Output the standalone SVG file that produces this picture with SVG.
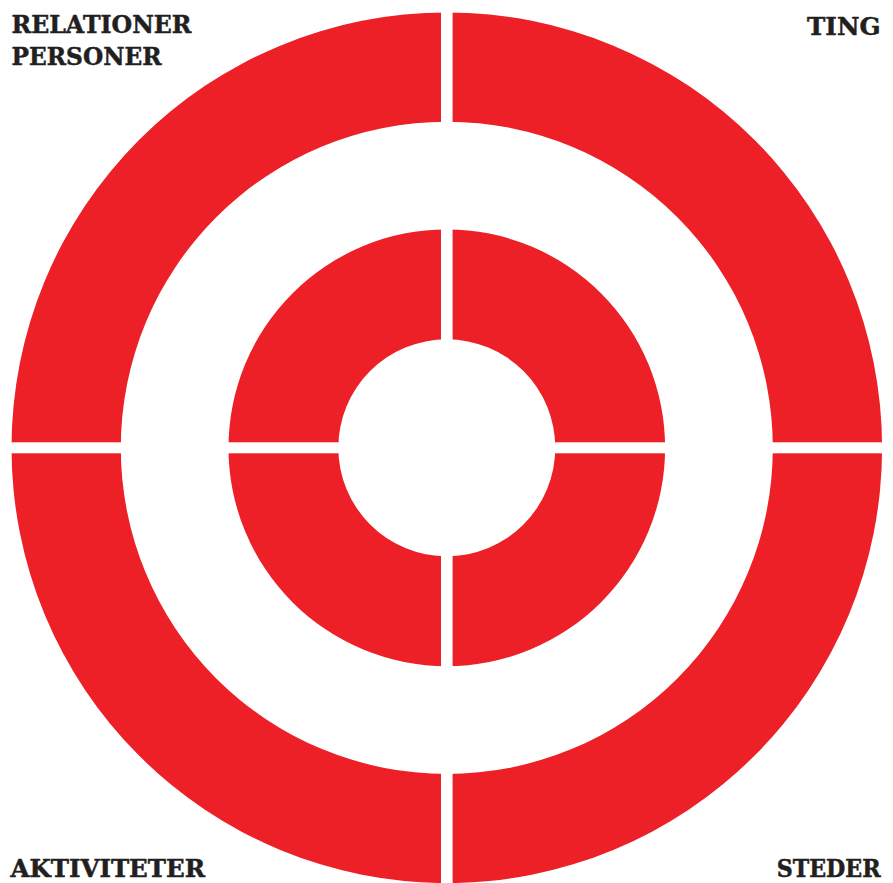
<svg xmlns="http://www.w3.org/2000/svg" width="893" height="883" viewBox="0 0 893 883">
<style>
.ring{fill:#ED1F27;fill-rule:evenodd}
.gap{fill:#FFFFFF}
.lbl{font-family:"DejaVu Serif","Liberation Serif",serif;font-weight:bold;font-size:25px;fill:#231F20;stroke:#231F20;stroke-width:0.5}
.low{font-size:24px}
</style>
<rect width="893" height="883" fill="#FFFFFF"/>
<g id="outer-ring">
<path class="ring" d="M11.5,447.8 A435.3,435.3 0 1,0 882.1,447.8 A435.3,435.3 0 1,0 11.5,447.8 Z M120.8,447.8 A326,326 0 1,0 772.8,447.8 A326,326 0 1,0 120.8,447.8 Z"/>
</g>
<g id="inner-ring">
<path class="ring" d="M228.5,447.8 A218.3,218.3 0 1,0 665.1,447.8 A218.3,218.3 0 1,0 228.5,447.8 Z M338.3,447.8 A108.5,108.5 0 1,0 555.3,447.8 A108.5,108.5 0 1,0 338.3,447.8 Z"/>
</g>
<g id="dividers">
<rect class="gap" x="441" y="0" width="11.6" height="883"/>
<rect class="gap" x="0" y="442.3" width="893" height="11"/>
</g>
<g id="label-relationer-personer">
<text class="lbl" x="11.5" y="33.3" textLength="180" lengthAdjust="spacingAndGlyphs">RELATIONER</text>
<text class="lbl" x="11.5" y="65" textLength="150" lengthAdjust="spacingAndGlyphs">PERSONER</text>
</g>
<g id="label-ting">
<text class="lbl" x="807" y="34.5" textLength="73.5" lengthAdjust="spacingAndGlyphs">TING</text>
</g>
<g id="label-aktiviteter">
<text class="lbl low" x="10.5" y="876.5" textLength="194.5" lengthAdjust="spacingAndGlyphs">AKTIVITETER</text>
</g>
<g id="label-steder">
<text class="lbl low" x="776.7" y="876.5" textLength="104" lengthAdjust="spacingAndGlyphs">STEDER</text>
</g>
</svg>
